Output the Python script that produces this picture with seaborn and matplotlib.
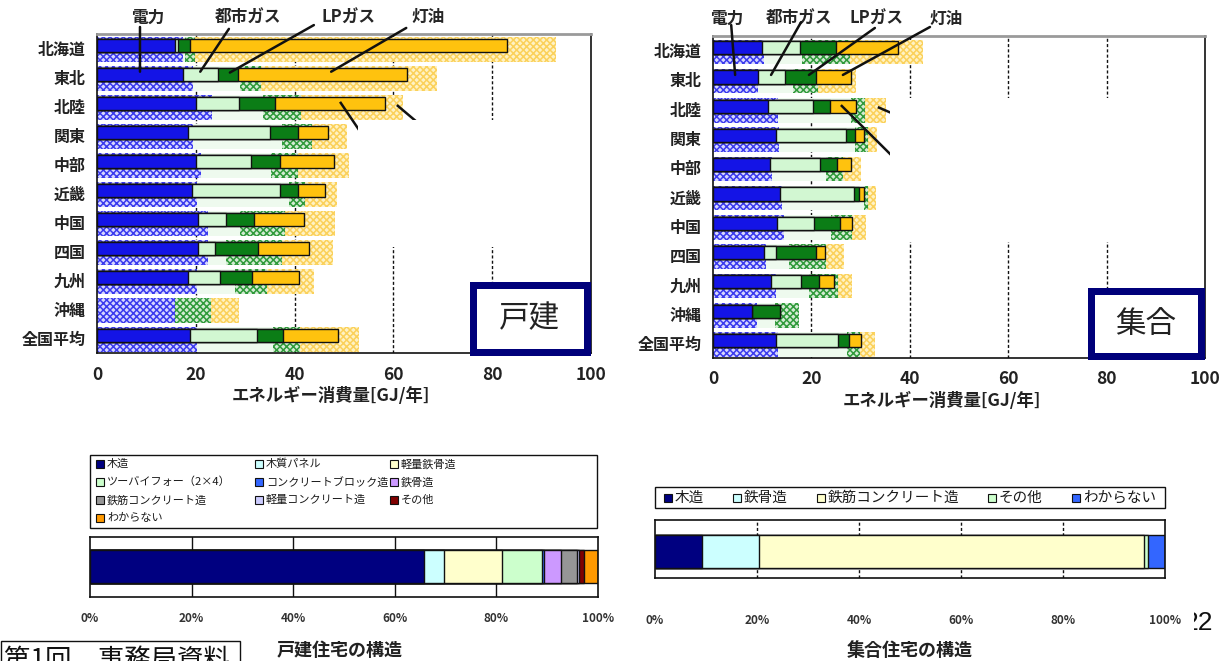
import numpy as np
import pandas as pd
import matplotlib
matplotlib.use("Agg")
import matplotlib.pyplot as plt
from matplotlib.patches import Rectangle
import seaborn as sns

# ---------------------------------------------------------------- data
regions = ["北海道", "東北", "北陸", "関東", "中部", "近畿",
           "中国", "四国", "九州", "沖縄", "全国平均"]
fuels = ["電力", "都市ガス", "LPガス", "灯油"]
x_ticks = [0, 20, 40, 60, 80, 100]

# 戸建: upper (outlined) bars, GJ/年 per fuel
det_elec = [15.8, 17.5, 20.1, 18.4, 20.1, 19.3, 20.4, 20.4, 18.4, np.nan, 18.8]
det_city = [0.6, 7.0, 8.7, 16.6, 11.0, 17.7, 5.7, 3.5, 6.5, np.nan, 13.5]
det_lpg = [2.4, 4.1, 7.2, 5.6, 6.0, 3.7, 5.7, 8.6, 6.5, np.nan, 5.4]
det_kero = [64.2, 34.2, 22.2, 6.2, 10.9, 5.4, 10.1, 10.4, 9.5, np.nan, 11.1]
# 戸建: lower (checkered) bars
det2_elec = [17.5, 19.5, 23.3, 19.5, 21.0, 20.2, 22.4, 22.4, 20.2, 15.8, 20.2]
det2_city = [0.4, 9.5, 10.4, 17.9, 14.3, 18.7, 6.6, 3.8, 7.8, 0.0, 15.4]
det2_lpg = [1.9, 4.1, 7.6, 6.2, 5.4, 3.3, 9.1, 11.2, 6.5, 7.2, 5.5]
det2_kero = [73.2, 35.8, 20.6, 7.0, 10.4, 6.4, 10.1, 10.3, 9.5, 5.8, 12.0]

# 集合: upper (outlined) bars
apt_elec = [9.9, 9.2, 11.2, 12.9, 11.5, 13.7, 13.1, 10.3, 11.7, 8.0, 12.9]
apt_city = [7.8, 5.4, 9.2, 14.1, 10.2, 14.9, 7.4, 2.6, 6.2, 0.0, 12.6]
apt_lpg = [7.3, 6.4, 3.4, 1.9, 3.5, 1.1, 5.3, 8.1, 3.7, 5.7, 2.1]
apt_kero = [12.6, 7.1, 5.2, 1.7, 2.9, 0.9, 2.5, 1.8, 3.0, 0.0, 2.5]
# 集合: lower (checkered) bars
apt2_elec = [10.3, 9.1, 13.3, 13.5, 12.0, 14.1, 14.5, 10.7, 12.8, 8.9, 13.3]
apt2_city = [7.7, 7.1, 14.8, 15.4, 11.0, 16.6, 9.5, 4.8, 6.8, 3.8, 13.9]
apt2_lpg = [9.8, 5.1, 2.8, 2.6, 3.4, 0.8, 4.3, 7.5, 5.8, 4.8, 2.6]
apt2_kero = [14.8, 7.8, 4.2, 1.8, 3.7, 1.6, 2.7, 3.6, 2.8, 0.0, 3.1]

# 住宅の構造 (share, %)
det_structs = ["木造", "木質パネル", "軽量鉄骨造", "ツーバイフォー（2×4）",
               "コンクリートブロック造", "鉄骨造", "鉄筋コンクリート造",
               "軽量コンクリート造", "その他", "わからない"]
det_share = [65.8, 3.9, 11.5, 7.7, 0.4, 3.5, 3.1, 0.4, 1.0, 2.7]
apt_structs = ["木造", "鉄骨造", "鉄筋コンクリート造", "その他", "わからない"]
apt_share = [9.2, 11.2, 75.4, 0.9, 3.3]
pct_ticks = [0, 20, 40, 60, 80, 100]
pct_labels = ["0%", "20%", "40%", "60%", "80%", "100%"]

# ---------------------------------------------------------------- style
sns.set_theme(style="white")
plt.rcParams["font.family"] = ["Noto Sans CJK JP", "DejaVu Sans"]
plt.rcParams["hatch.linewidth"] = 1.1

solid_styles = [
    dict(color="#1414e6", edgecolor="#111111", linewidth=1.0),
    dict(color="#d2f7d2", edgecolor="#111111", linewidth=1.0),
    dict(color="#0b7d16", edgecolor="#111111", linewidth=1.0),
    dict(color="#ffc20e", edgecolor="#111111", linewidth=1.0),
]
check_styles = [
    dict(color="#d6d6ff", edgecolor="#3a3aee", linewidth=0, hatch="xxxxx"),
    dict(color="#eefaee", edgecolor="#eefaee", linewidth=0),
    dict(color="#d4ecd4", edgecolor="#2f9a3a", linewidth=0, hatch="xxxxx"),
    dict(color="#fff2c4", edgecolor="#fbd15a", linewidth=0, hatch="xxxxx"),
]
det_colors = ["#000080", "#ccffff", "#ffffcc", "#ccffcc", "#3366ff",
              "#cc99ff", "#969696", "#ccccff", "#800000", "#ff9900"]
apt_colors = ["#000080", "#ccffff", "#ffffcc", "#ccffcc", "#3366ff"]

W, H = 1224, 661
fig = plt.figure(figsize=(W / 100, H / 100), dpi=100)
fig.patch.set_facecolor("white")


def frame(x0, y0, x1, y1):
    return [x0 / W, 1 - y1 / H, (x1 - x0) / W, (y1 - y0) / H]


def fpt(x, y):
    return x / W, 1 - y / H


def fig_rect(x0, y0, x1, y1, **kw):
    fx0, fy0 = fpt(x0, y1)
    fx1, fy1 = fpt(x1, y0)
    fig.add_artist(Rectangle((fx0, fy0), fx1 - fx0, fy1 - fy0,
                             transform=fig.transFigure, **kw))


def stacked_bars(ax, series, pos, width, styles, zorder):
    cum = np.cumsum(np.array(series, dtype=float), axis=0)
    for k in reversed(range(len(series))):
        df = pd.DataFrame({"v": cum[k], "pos": pos}).dropna()
        sns.barplot(data=df, x="v", y="pos", orient="y", native_scale=True,
                    width=width, errorbar=None, saturation=1, ax=ax,
                    zorder=zorder, **styles[k])


def energy_panel(ax, upper, lower, label_x, leaders, blocks):
    pos = np.arange(len(regions), dtype=float)
    stacked_bars(ax, lower, pos + 0.04, 0.84, check_styles, 1)
    stacked_bars(ax, upper, pos - 0.10, 0.45, solid_styles, 2)
    for gx in x_ticks[1:-1]:
        ax.axvline(gx, color="#111111", lw=1.0, ls=(0, (2.2, 1.6)), zorder=0.5)
    ax.set_xlim(0, 100)
    ax.set_ylim(10.5, -0.5)
    ax.set_xticks(x_ticks)
    ax.set_xticklabels([str(t) for t in x_ticks], fontweight="bold",
                       fontsize=12.5, color="#222222")
    ax.set_yticks(range(len(regions)))
    ax.set_yticklabels(regions, fontweight="bold", fontsize=11.5,
                       color="#222222")
    ax.tick_params(axis="x", length=0, pad=9)
    ax.tick_params(axis="y", length=0, pad=8)
    ax.set_xlabel("")
    ax.set_ylabel("")
    for side in ("left", "bottom", "right"):
        ax.spines[side].set_color("#111111")
        ax.spines[side].set_linewidth(1.2)
    ax.spines["top"].set_color("#9a9a9a")
    ax.spines["top"].set_linewidth(2.0)
    # fuel names above the panel with leader lines into the 東北 bar
    for name, lx in zip(fuels, label_x):
        ax.text(lx, 1.052, name, transform=ax.get_xaxis_transform(),
                ha="center", va="center", fontsize=12, fontweight="bold",
                clip_on=False)
    for (x0, yf, x1, y1) in leaders:
        ax.annotate("", xy=(x1, y1), xycoords="data", xytext=(x0, yf),
                    textcoords=("data", "axes fraction"),
                    arrowprops=dict(arrowstyle="-", lw=1.8, color="#111111",
                                    shrinkA=0, shrinkB=0),
                    annotation_clip=False, zorder=4)
    for (x0, y0, x1, y1) in blocks["lines"]:
        ax.plot([x0, x1], [y0, y1], color="#111111", lw=1.8, zorder=4,
                solid_capstyle="butt")
    bx0, by0, bx1, by1 = blocks["blank"]
    ax.add_patch(Rectangle((bx0, by0), bx1 - bx0, by1 - by0, facecolor="white",
                           edgecolor="none", zorder=5))


# ------------------------------------------------ 戸建 energy panel
ax1 = fig.add_axes(frame(97, 34, 591, 353))
energy_panel(
    ax1,
    [det_elec, det_city, det_lpg, det_kero],
    [det2_elec, det2_city, det2_lpg, det2_kero],
    label_x=[10.3, 30.6, 51.0, 67.0],
    leaders=[(8.7, 1.022, 8.7, 0.80), (26.7, 1.016, 20.9, 0.80),
             (43.9, 1.028, 26.9, 0.83), (62.6, 1.019, 47.4, 0.80)],
    blocks={"lines": [(49.2, 1.84, 55.0, 3.30), (60.7, 1.95, 68.0, 3.00)],
            "blank": (52.8, 2.47, 98.6, 6.84)},
)

# ------------------------------------------------ 集合 energy panel
ax2 = fig.add_axes(frame(713, 36, 1205, 358))
energy_panel(
    ax2,
    [apt_elec, apt_city, apt_lpg, apt_kero],
    [apt2_elec, apt2_city, apt2_lpg, apt2_kero],
    label_x=[2.8, 17.5, 33.3, 47.4],
    leaders=[(3.7, 1.034, 4.5, 0.83), (17.9, 1.043, 11.8, 0.83),
             (32.9, 1.025, 19.5, 0.83), (44.1, 1.028, 26.4, 0.83)],
    blocks={"lines": [(26.0, 1.86, 40.0, 4.20), (33.5, 1.93, 40.0, 2.40)],
            "blank": (36.0, 1.62, 98.0, 6.54)},
)

for txt, cx, cy in (("エネルギー消費量[GJ/年]", 331, 396),
                    ("エネルギー消費量[GJ/年]", 942, 401)):
    fig.text(*fpt(cx, cy), txt, ha="center", va="center", fontsize=12.5,
             fontweight="bold", color="#222222")

# framed panel names
for txt, (x0, y0, x1, y1) in (("戸建", (469, 281, 590, 355)),
                              ("集合", (1087, 288, 1205, 359))):
    lw_px = 7
    fig_rect(x0 + lw_px / 2, y0 + lw_px / 2, x1 - lw_px / 2, y1 - lw_px / 2,
             facecolor="white", edgecolor="#00007a", linewidth=lw_px * 0.72,
             zorder=3)
    fig.text(*fpt((x0 + x1) / 2, (y0 + y1) / 2 + 1), txt, ha="center",
             va="center", fontsize=22, color="#222222", zorder=4)


# ------------------------------------------------ structure bars
def structure_panel(ax, shares, colors, grid_ls, pad, ylim):
    series = [[v] for v in shares]
    styles = [dict(color=c, edgecolor="#111111", linewidth=1.0) for c in colors]
    stacked_bars(ax, series, np.array([0.0]), 1.0, styles, 2)
    for gx in pct_ticks[1:-1]:
        ax.axvline(gx, color="#111111", lw=1.0, ls=grid_ls, zorder=0.5)
    ax.set_xlim(0, 100)
    ax.set_ylim(*ylim)
    ax.set_xticks(pct_ticks)
    ax.set_xticklabels(pct_labels, fontsize=8.5, fontweight="bold",
                       color="#333333")
    ax.set_yticks([])
    ax.tick_params(axis="x", length=0, pad=pad)
    ax.set_xlabel("")
    ax.set_ylabel("")
    for s in ax.spines.values():
        s.set_color("#111111")
        s.set_linewidth(1.2)


ax3 = fig.add_axes(frame(90, 537, 598, 597))
structure_panel(ax3, det_share, det_colors, "-", 11, (0.95, -0.92))
ax4 = fig.add_axes(frame(655, 520, 1165, 578))
structure_panel(ax4, apt_share, apt_colors, (0, (2.2, 1.6)), 26, (0.80, -0.97))


def structure_key(names, colors, slots, box, fontsize):
    """Framed key: one small square and name per structure type."""
    fig_rect(*box, facecolor="white", edgecolor="#111111", linewidth=1.0,
             zorder=2)
    for name, color, (x, y) in zip(names, colors, slots):
        fig_rect(x, y - 4, x + 8, y + 4, facecolor=color,
                 edgecolor="#111111", linewidth=0.8, zorder=3)
        fig.text(*fpt(x + 11, y), name, ha="left", va="center",
                 fontsize=fontsize, color="#1a1a1a", zorder=3)


det_cols = [96, 255, 390]
det_rows = [464, 482, 500, 518]
det_slots = [(det_cols[i % 3], det_rows[i // 3]) for i in range(len(det_structs))]
structure_key(det_structs, det_colors, det_slots, (90, 455, 597, 528), 8)

apt_slots = [(x, 497.5) for x in (664, 733, 817, 988, 1072)]
structure_key(apt_structs, apt_colors, apt_slots, (655, 487, 1165, 508), 10.5)

fig.text(*fpt(340, 651), "戸建住宅の構造", ha="center", va="center",
         fontsize=13, fontweight="bold", color="#222222")
fig.text(*fpt(910, 651), "集合住宅の構造", ha="center", va="center",
         fontsize=13, fontweight="bold", color="#222222")

# document footer
fig_rect(1, 641, 240, 700, facecolor="white", edgecolor="#111111",
         linewidth=1.0)
fig.text(*fpt(4, 647), "第1回　事務局資料", ha="left", va="top",
         fontsize=19, color="#111111")
fig.text(*fpt(1213, 623), "22", ha="right", va="center", fontsize=19,
         family=["Liberation Sans", "DejaVu Sans"], color="#111111")
fig_rect(1185, 605, 1194, 640, facecolor="white", edgecolor="none", zorder=5)

fig.savefig("out.png", dpi=100, facecolor="white")
